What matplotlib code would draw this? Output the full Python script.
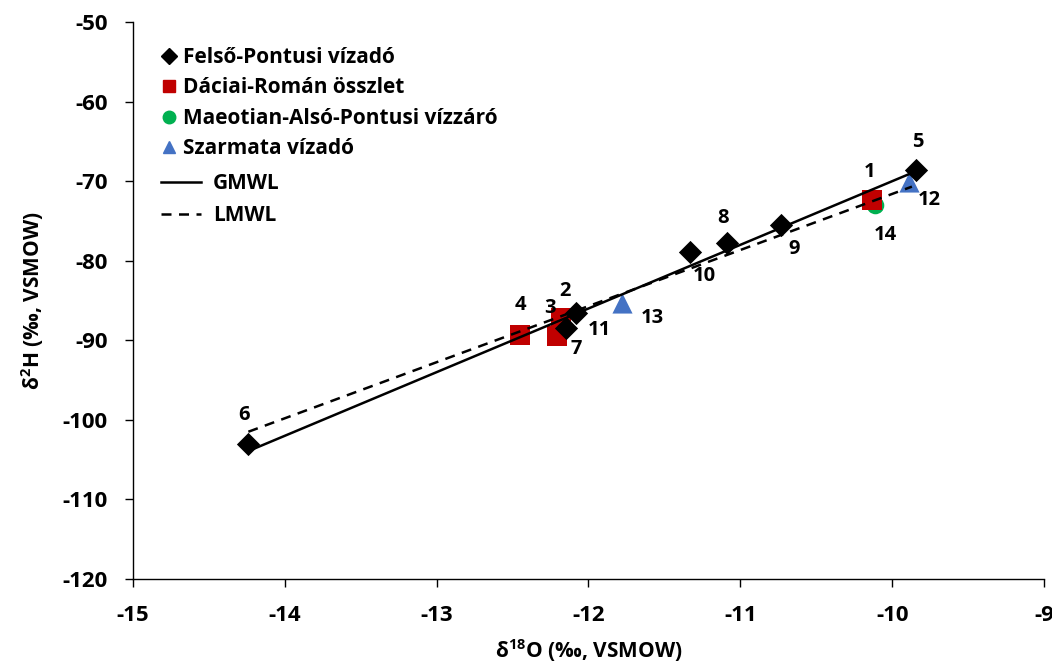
import matplotlib
matplotlib.use("Agg")
import matplotlib.pyplot as plt
from matplotlib.lines import Line2D

FONT = 'Open Sans'
plt.rcParams['font.family'] = [FONT, 'DejaVu Sans']
plt.rcParams['font.weight'] = 'bold'
plt.rcParams['axes.unicode_minus'] = False
plt.rcParams['mathtext.fontset'] = 'custom'
plt.rcParams['mathtext.rm'] = FONT + ':bold'
plt.rcParams['mathtext.bf'] = FONT + ':bold'

# Data
felso_ids = [2, 5, 6, 8, 9, 10, 11]
felso_x = [-12.08, -9.84, -14.24, -11.09, -10.73, -11.33, -12.15]
felso_y = [-86.6, -68.6, -103.0, -77.8, -75.5, -78.9, -88.5]

daciai_ids = [1, 3, 4, 7]
daciai_x = [-10.13, -12.18, -12.45, -12.21]
daciai_y = [-72.4, -87.2, -89.3, -89.5]

maeot_ids = [14]
maeot_x = [-10.11]
maeot_y = [-73.0]

szarm_ids = [12, 13]
szarm_x = [-9.89, -11.78]
szarm_y = [-70.1, -85.3]

gmwl_x = [-14.24, -9.84]
gmwl_slope, gmwl_int = 8.0, 10.0
lmwl_x = [-14.24, -9.87]
lmwl_slope, lmwl_int = 7.05, -1.1

# label offsets in pixels (dx, dy screen-down)
label_off = {1: (-3, -28), 2: (-11, -22), 3: (-11, -10), 4: (0, -30), 5: (1, -28),
             6: (-4, -29), 7: (20, 13), 8: (-4, -25), 9: (13, 24), 10: (14, 24),
             11: (34, 2), 12: (20, 18), 13: (30, 15), 14: (10, 30)}

fig = plt.figure(figsize=(10.52, 6.63), dpi=100)
ax = fig.add_axes([0.1264, 0.1267, 0.866, 0.84])

ax.scatter(maeot_x, maeot_y, marker='o', s=160, color='#00B050', zorder=2, linewidths=0)
ax.scatter(szarm_x, szarm_y, marker='^', s=210, color='#4472C4', zorder=2.5, linewidths=0)
ax.scatter(daciai_x, daciai_y, marker='s', s=190, color='#C00000', zorder=3, linewidths=0)
ax.scatter(felso_x, felso_y, marker='D', s=140, color='black', zorder=4, linewidths=0)

ax.plot(gmwl_x, [gmwl_slope * v + gmwl_int for v in gmwl_x], color='black', lw=1.8, zorder=5)
ax.plot(lmwl_x, [lmwl_slope * v + lmwl_int for v in lmwl_x], color='black', lw=1.8,
        ls=(0, (4, 3)), zorder=5)

for ids, xs, ys in [(felso_ids, felso_x, felso_y), (daciai_ids, daciai_x, daciai_y),
                    (maeot_ids, maeot_x, maeot_y), (szarm_ids, szarm_x, szarm_y)]:
    for i, x, y in zip(ids, xs, ys):
        dx, dy = label_off[i]
        ax.annotate(str(i), (x, y), xytext=(dx * 0.72, -dy * 0.72), textcoords='offset points',
                    ha='center', va='center', fontsize=14.5, fontweight='bold', zorder=6)

ax.set_xlim(-15, -9)
ax.set_ylim(-120, -50)
ax.set_xticks(range(-15, -8))
ax.set_yticks(range(-120, -49, 10))
for s in ['top', 'right']:
    ax.spines[s].set_visible(False)
for s in ['left', 'bottom']:
    ax.spines[s].set_linewidth(1.0)
ax.tick_params(axis='both', direction='out', length=6, width=1.0, labelsize=16)
ax.tick_params(axis='y', pad=12)
ax.tick_params(axis='x', pad=13)
for lbl in ax.get_xticklabels() + ax.get_yticklabels():
    lbl.set_fontweight('bold')

ax.set_xlabel(r'δ$^{\mathbf{18}}$O (‰, VSMOW)', fontsize=15, fontweight='bold', labelpad=8)
ax.set_ylabel(r'δ$^{\mathbf{2}}$H (‰, VSMOW)', fontsize=15, fontweight='bold', labelpad=12)

mk_handles = [
    Line2D([], [], marker='D', color='black', ls='none', markersize=8),
    Line2D([], [], marker='s', color='#C00000', ls='none', markersize=9),
    Line2D([], [], marker='o', color='#00B050', ls='none', markersize=9),
    Line2D([], [], marker='^', color='#4472C4', ls='none', markersize=9),
]
mk_labels = ['Felső-Pontusi vízadó', 'Dáciai-Román összlet', 'Maeotian-Alsó-Pontusi vízzáró',
             'Szarmata vízadó']
ln_handles = [
    Line2D([], [], color='black', lw=1.8),
    Line2D([], [], color='black', lw=1.8, ls=(0, (4, 3))),
]
ln_labels = ['GMWL', 'LMWL']
prop = {'family': [FONT, 'DejaVu Sans'], 'weight': 'bold', 'size': 15}
leg1 = ax.legend(mk_handles, mk_labels, loc='upper left', bbox_to_anchor=(0.0187, 0.970),
                 frameon=False, labelspacing=0.45, handlelength=1.0, handletextpad=0.2,
                 borderaxespad=0, prop=prop)
ax.add_artist(leg1)
ax.legend(ln_handles, ln_labels, loc='upper left', bbox_to_anchor=(0.0216, 0.744),
          frameon=False, labelspacing=0.55, handlelength=1.9, handletextpad=0.6,
          borderaxespad=0, prop=prop)

fig.savefig('out.png', dpi=100)
